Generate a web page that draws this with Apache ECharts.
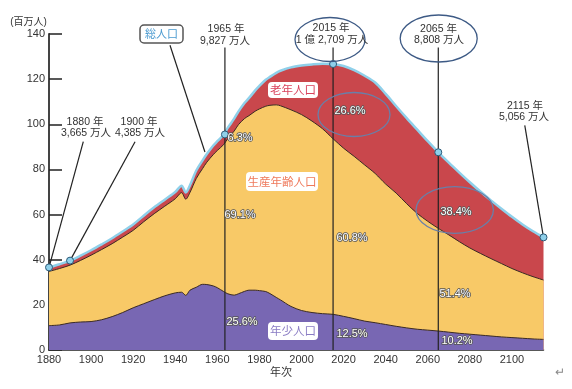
<!DOCTYPE html>
<html><head><meta charset="utf-8">
<script src="https://cdn.jsdelivr.net/npm/echarts@6/dist/echarts.min.js"></script>
<style>html,body{margin:0;padding:0;background:#fff}#c{width:572px;height:389px}</style>
</head><body><div id="c"></div>
<script>
const years = [1880,1885,1890,1895,1900,1905,1910,1915,1920,1925,1930,1935,1940,1943,1945,1947,1950,1953,1955,1958,1960,1963,1965,1968,1970,1973,1975,1978,1980,1983,1985,1988,1990,1995,2000,2005,2010,2015,2020,2025,2030,2035,2040,2045,2050,2055,2060,2065,2070,2075,2080,2085,2090,2095,2100,2105,2110,2115];
// 年少人口 (0-14), million
const young = [10.8,11.1,12.0,12.4,12.6,13.4,14.8,16.6,18.7,20.5,22.3,24.0,25.3,25.6,24.2,26.5,27.8,29.1,29.0,28.4,27.6,25.9,24.9,24.3,24.9,26.0,26.5,26.5,26.3,25.9,25.0,23.3,22.2,19.3,17.5,16.6,16.1,15.8,14.9,13.9,12.8,12.1,11.3,10.5,9.8,9.2,8.8,8.4,7.9,7.4,7.0,6.6,6.2,5.8,5.5,5.2,4.9,4.7];
// 生産年齢人口 (15-64)
const working = [24.0,25.0,25.6,27.3,29.4,31.1,32.3,33.4,34.3,36.3,38.1,39.7,41.7,44.1,42.6,43.3,48.2,51.3,54.2,58.1,60.8,65.1,68.8,72.7,74.9,76.6,77.3,79.3,80.5,82.1,83.4,85.3,86.0,87.1,86.8,84.8,81.9,77.8,74.5,71.9,69.2,66.1,62.2,59.0,55.0,51.3,48.2,45.5,43.1,40.6,38.2,36.2,34.3,32.5,30.6,29.0,27.6,26.3];
// 老年人口 (65+)
const elderly = [1.8,1.9,2.0,2.1,2.2,2.3,2.4,2.5,2.6,2.7,2.8,2.9,3.0,3.1,3.0,3.2,3.5,3.6,3.6,4.0,4.1,4.4,4.8,5.5,5.8,6.9,7.8,9.2,10.2,11.7,12.6,14.2,15.5,18.8,21.7,25.1,28.8,33.1,36.4,38.2,39.5,40.3,40.0,38.5,37.9,37.1,35.5,33.7,32.0,30.6,29.1,27.4,25.8,24.3,22.9,21.4,20.1,18.9];
// 総人口 markers [year, total]
const markerPoints = [[1880,36.6],[1890,39.6],[1963.6,95.5],[2015,126.7],[2065,87.6],[2115,49.9]];
// leader lines in data coordinates
const leaderLines = [
  [[1896.3,92.3],[1880,36.6]],
  [[1920.9,92.3],[1890,39.6]],
  [[1963.6,134],[1963.6,0]],
  [[2015,134],[2015,0]],
  [[2065,134],[2065,0]],
  [[2106.1,99.5],[2115,49.9]],
  [[1937.5,135],[1954.1,87.7]]
];
const xTicks = {min:1880, max:2115, interval:20};
const yTicks = {min:0, max:140, interval:20};

const FONT = '"Liberation Sans","Noto Sans CJK JP",sans-serif';
const chart = echarts.init(document.getElementById('c'), null, {renderer:'canvas'});
// cumulative boundaries (manual stacking)
const under15 = years.map((y,i)=>[y, young[i]]);
const under65 = years.map((y,i)=>[y, +(young[i]+working[i]).toFixed(2)]);
const total = years.map((y,i)=>[y, +(young[i]+working[i]+elderly[i]).toFixed(2)]);

const T = (text,x,y,opt={}) => ({type:'text', z:100, style:Object.assign({text, x, y, fill:'#333', font:'10.5px '+FONT, align:'center', verticalAlign:'middle'}, opt)});
const pct = (text,x,y) => ({type:'text', z:100, style:{text, x, y, fill:'#fff', stroke:'#555', lineWidth:1.6, font:'11px '+FONT, align:'center', verticalAlign:'middle'}});
const ell = (cx,cy,rx,ry,color) => ({type:'ellipse', z:99, shape:{cx,cy,rx,ry}, style:{fill:null, stroke:color, lineWidth:1.3}});
const box = (x,y,w,h,stroke) => ({type:'rect', z:99, shape:{x,y,width:w,height:h,r:4}, style:{fill:'#fff', stroke:stroke||null, lineWidth:1.5}});

const series = [
  {name:'老年人口', type:'line', data:total, symbol:'none', smooth:0.3,
   lineStyle:{color:'#8fd0ea', width:2.5}, areaStyle:{color:'#c9474c', opacity:1}, z:2},
  {name:'生産年齢人口', type:'line', data:under65, symbol:'none', smooth:0.3,
   lineStyle:{color:'#3a2a24', width:1}, areaStyle:{color:'#f8c967', opacity:1}, z:3},
  {name:'年少人口', type:'line', data:under15, symbol:'none', smooth:0.3,
   lineStyle:{color:'#3a2a24', width:1}, areaStyle:{color:'#7867b3', opacity:1}, z:4}
];
leaderLines.forEach(seg => series.push({type:'line', data:seg, symbol:'none', silent:true,
  lineStyle:{color:'#222', width:1.2}, z:5}));
series.push({type:'scatter', data:markerPoints, symbolSize:7, z:6,
  itemStyle:{color:'#8fd0ea', borderColor:'#2c5a78', borderWidth:1, opacity:1}});

chart.setOption({
  animation:false,
  grid:{left:49, right:28.5, top:34, bottom:39, containLabel:false},
  xAxis:{type:'value', min:xTicks.min, max:xTicks.max, interval:xTicks.interval,
    axisLine:{lineStyle:{color:'#222', width:1.5}},
    axisTick:{inside:true, length:4, lineStyle:{color:'#222'}},
    axisLabel:{color:'#333', fontSize:11, fontFamily:FONT, margin:4, showMaxLabel:false, formatter:v=>String(v)},
    splitLine:{show:false}},
  yAxis:{type:'value', min:yTicks.min, max:yTicks.max, interval:yTicks.interval,
    axisLine:{show:true, lineStyle:{color:'#444', width:2}},
    axisTick:{show:true, inside:true, length:13, lineStyle:{color:'#222', width:1.5}},
    axisLabel:{color:'#333', fontSize:11, fontFamily:FONT, margin:4},
    splitLine:{show:false}},
  series,
  graphic:[
    T('(百万人)',28.5,22.5,{font:'10px '+FONT}),
    T('年次',281,373,{font:'11px '+FONT}),
    T('↵',560,373,{fill:'#888',font:'12px '+FONT}),
    T('1880 年',85,122), T('3,665 万人',86,133),
    T('1900 年',139,122), T('4,385 万人',140,133),
    T('1965 年',226,29), T('9,827 万人',225,41.5),
    ell(330,39.5,35,22,'#3d5a85'),
    T('2015 年',331,28.5), T('1 億 2,709 万人',332,40.5),
    ell(438.7,38.5,38.5,23.5,'#3d5a85'),
    T('2065 年',438.5,29), T('8,808 万人',439,40.5),
    T('2115 年',525,106), T('5,056 万人',524,117),
    box(140,25,43,18,'#555'),
    T('総人口',161.5,34,{fill:'#4a9ad0',font:'11px "Noto Sans CJK JP",sans-serif'}),
    box(268,82,50,16),
    T('老年人口',293,90,{fill:'#d9435c',font:'11.5px "Noto Sans CJK JP",sans-serif'}),
    box(246,172,72,19),
    T('生産年齢人口',282,181.5,{fill:'#ef7a5c',font:'11.5px "Noto Sans CJK JP",sans-serif'}),
    box(268,322,50,18),
    T('年少人口',293,331,{fill:'#8a7cc4',font:'11.5px "Noto Sans CJK JP",sans-serif'}),
    ell(354,114.5,36,22,'#6a7fa8'),
    ell(454.7,210,38.7,23.3,'#6a7fa8'),
    pct('6.3%',240,137.5), pct('69.1%',240,215), pct('25.6%',242,322),
    pct('26.6%',350,111), pct('60.8%',352,238), pct('12.5%',352,333.5),
    pct('38.4%',456,212), pct('51.4%',455,294), pct('10.2%',457,341)
  ]
});
</script></body></html>
